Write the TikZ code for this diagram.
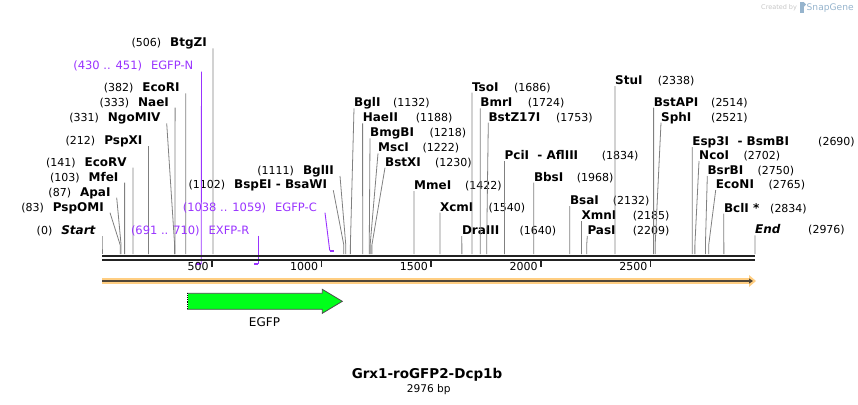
\documentclass[tikz,border=0pt]{standalone}
\usepackage{fontspec}
\setmainfont{DejaVu Sans}
\usetikzlibrary{arrows.meta,positioning}
\definecolor{primer}{RGB}{153,51,255}
\definecolor{cutline}{RGB}{128,128,128}
\definecolor{bbone}{RGB}{34,34,34}
\definecolor{orf}{RGB}{255,206,130}
\definecolor{orfline}{RGB}{80,70,55}
\definecolor{egfp}{RGB}{0,255,26}
\definecolor{sgblue}{RGB}{150,180,205}

\begin{document}
\begin{tikzpicture}[x=1pt, y=-1pt,
    cut/.style={cutline, line width=0.8pt},
    enz/.style={inner sep=0pt, font=\fontsize{12}{14}\selectfont\bfseries},
    bpnum/.style={inner sep=0pt, font=\fontsize{11}{13}\selectfont},
    prim/.style={inner sep=0pt, primer, font=\fontsize{11.5}{13}\selectfont},
    primbar/.style={primer, line width=2pt},
    backbone/.style={bbone, line width=2.2pt}]
\useasboundingbox (0,0) rectangle (858,404);

% sites labelled on the left: (bp) Name
\foreach \bp/\lx/\ly/\nm in {0/102/230/\textit{Start}, 83/110/206.7/PspOMI,
    87/116.7/191.7/ApaI, 103/124.6/176.7/MfeI, 141/132.9/161.7/EcoRV,
    212/148.5/140/PspXI, 331/166.7/117.3/NgoMIV, 333/175.1/101.7/NaeI,
    382/185.8/87.3/EcoRI, 506/213/42.3/BtgZI, 1102/333.3/184.3/BspEI - BsaWI,
    1111/340/170/BglII}{
  \pgfmathsetmacro\xs{102+\bp*0.219422}
  \coordinate (c\bp) at (\xs,254);
  \node[bpnum, anchor=base east] (n\bp) at ({\lx-6},{\ly+4.5})
    {(\bp)\hspace{9pt}{\fontsize{12}{14}\selectfont\bfseries \nm}};
  \draw[cut] ([xshift=6pt,yshift=-1.5pt]n\bp.base east) -- ([yshift=9pt]c\bp) -- (c\bp);
}

% sites labelled on the right: Name (bp)
\foreach \bp/\lx/\ly/\nm/\nx in {1132/354/102.3/BglI/393, 1188/362.6/117.3/HaeII/415.7,
    1218/370/132.3/BmgBI/429.3, 1222/378/147.3/MscI/422.3, 1230/385/161.7/BstXI/435,
    1422/414/185/MmeI/465, 1540/439.9/206.7/XcmI/488.3, 1640/461.8/230/DraIII/519.3,
    1686/471.9/86.7/TsoI/514, 1724/480.2/102.3/BmrI/527.7, 1753/488.3/116.7/BstZ17I/556,
    1834/504.4/155/PciI\ \ - AflIII/601.7, 1968/533.8/176.7/BbsI/576.7,
    2132/569.8/200/BsaI/612.7, 2185/581.4/215/XmnI/632.7, 2209/587.3/230/PasI/632.7,
    2338/615/80/StuI/657.7, 2514/653.6/101.7/BstAPI/711, 2521/661/116.7/SphI/711,
    2690/692.2/141/Esp3I\ \ - BsmBI/818, 2702/699/155/NcoI/743.3,
    2750/707.3/170/BsrBI/757.3, 2765/715.7/184/EcoNI/768.3,
    2834/723.8/207.7/BclI */770, 2976/755/229.3/\textit{End}/808}{
  \pgfmathsetmacro\xs{102+\bp*0.219422}
  \coordinate (c\bp) at (\xs,254);
  \node[enz, anchor=base west] (n\bp) at (\lx,{\ly+4.5}) {\nm};
  \node[bpnum, anchor=base west] (p\bp) at (\nx,{\ly+4.5}) {(\bp)};
  \draw[cut] ([yshift=-1.5pt]n\bp.base west) -- ([yshift=9pt]c\bp) -- (c\bp);
}

% primers
\node[prim, anchor=base east] (pN) at (193.5,69.5) {(430 .. 451)\hspace{9pt}EGFP-N};
\coordinate (pNbar) at (201.2,264);
\draw[primer, line width=0.9pt] ([xshift=8pt,yshift=-2.2pt]pN.base east) -- (pNbar);
\draw[primbar] (pNbar) -- ++(-4.9,0);
\node[prim, anchor=base east] (pR) at (249.5,234.5) {(691 .. 710)\hspace{9pt}EXFP-R};
\coordinate (pRbar) at (258,264);
\draw[primer, line width=0.9pt] ([xshift=8.5pt,yshift=-1.2pt]pR.base east) -- (pRbar);
\draw[primbar] (pRbar) -- ++(-4.4,0);
\node[prim, anchor=base east] (pC) at (317,211.2) {(1038 .. 1059)\hspace{9pt}EGFP-C};
\coordinate (pCbar) at (329.7,250.5);
\draw[primer, line width=0.9pt] ([xshift=8pt,yshift=-1.5pt]pC.base east) -- (pCbar);
\draw[primbar] (pCbar) -- ++(4.6,0);

% backbone and ruler
\coordinate (bbL) at (102,255.6);
\coordinate (bbR) at (755,255.6);
\draw[backbone] (bbL) -- (bbR);
\draw[backbone, line width=2pt] ([yshift=-4pt]bbL) -- ([yshift=-4pt]bbR);
\foreach \t in {500,1000,...,2500}{
  \pgfmathsetmacro\xt{102+\t*0.219422}
  \coordinate (t\t) at (\xt,260.5);
  \draw[bbone, line width=1.8pt] (t\t) -- ++(0,6.5);
  \node[bpnum, anchor=base east] (tl\t) at ({\xt-3},270.8) {\t};
}

% open reading direction
\coordinate (oL) at (102,281);
\coordinate (oR) at (749,281);
\draw[orf, line width=6pt] (oL) -- (oR);
\fill[orf] ([yshift=6pt]oR) -- ++(7,6) -- ++(-7,6) -- cycle;
\draw[orfline, line width=1.6pt, -{Triangle[length=4pt,width=5pt]}] (oL) -- ([xshift=4pt]oR);

% EGFP feature
\draw[draw=gray!60!black, fill=egfp, line width=0.8pt]
  (187.5,293.3) -- (322.3,293.3) -- (322.3,289.3) -- (342.3,301.3)
  -- (322.3,313.3) -- (322.3,309.3) -- (187.5,309.3) -- cycle;
\draw[white, line width=0.8pt] (187.5,293.3) -- (187.5,309.3);
\draw[black, line width=0.8pt, densely dotted] (187.5,293.3) -- (187.5,309.3);
\node[inner sep=0pt, font=\fontsize{12}{14}\selectfont, anchor=base] (egfp) at (264.5,326) {EGFP};

% title
\node[inner sep=0pt, font=\fontsize{13.5}{16}\selectfont\bfseries, anchor=base] (title) at (427,378) {Grx1-roGFP2-Dcp1b};
\node[inner sep=0pt, font=\fontsize{10.6}{13}\selectfont, anchor=base] (size) at (428.7,392) {2976 bp};

% watermark
\node[inner sep=0pt, anchor=base west, gray!45, font=\fontsize{6.5}{8}\selectfont] (cby) at (761,10) {Created by};
\fill[sgblue] (800,2) rectangle (803.5,13);
\fill[sgblue] (803.5,2) -- (806,4.5) -- (803.5,7) -- cycle;
\node[inner sep=0pt, anchor=base west, sgblue, font=\fontsize{9.1}{10}\selectfont] (sg) at (806.5,10.5) {SnapGene};
\end{tikzpicture}
\end{document}
